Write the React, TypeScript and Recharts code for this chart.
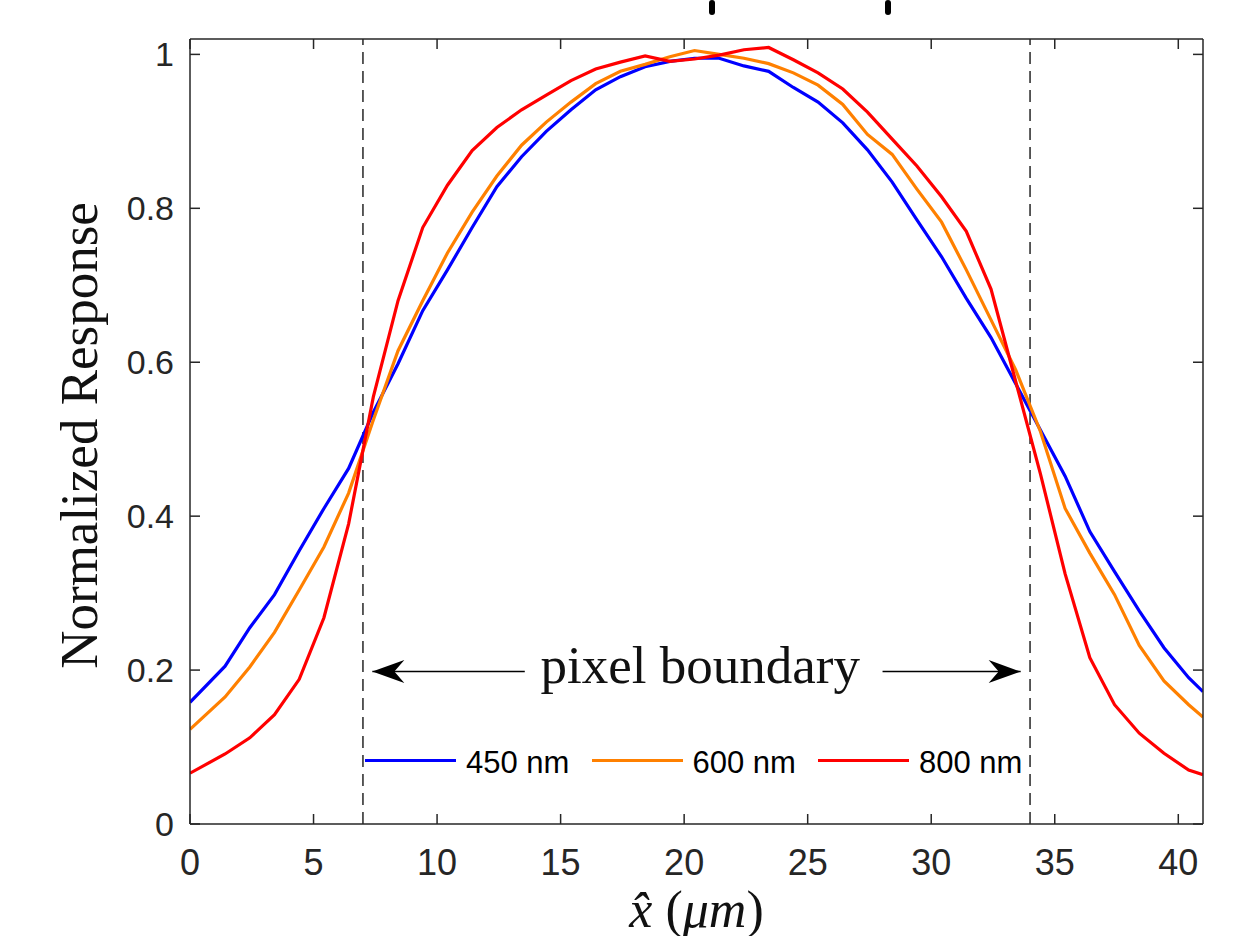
import React from 'react';
import {
  LineChart, Line, XAxis, YAxis, ReferenceLine, ReferenceDot, Legend,
} from 'recharts';

// x positions of samples (µm)
const xPositions = [
  0, 1.42, 2.42, 3.42, 4.42, 5.42, 6.42, 7.42, 8.42, 9.42, 10.42,
  11.42, 12.42, 13.42, 14.42, 15.42, 16.42, 17.42, 18.42, 19.42, 20.42,
  21.42, 22.42, 23.42, 24.42, 25.42, 26.42, 27.42, 28.42, 29.42, 30.42,
  31.42, 32.42, 33.42, 34.42, 35.42, 36.42, 37.42, 38.42, 39.42, 40.42, 41,
];

const response450 = [
  0.158, 0.205, 0.255, 0.298, 0.355, 0.41, 0.462, 0.535, 0.598, 0.667, 0.72,
  0.775, 0.828, 0.867, 0.9, 0.928, 0.954, 0.971, 0.984, 0.991, 0.995,
  0.995, 0.985, 0.978, 0.957, 0.938, 0.911, 0.876, 0.834, 0.785, 0.737,
  0.683, 0.632, 0.572, 0.512, 0.452, 0.38, 0.328, 0.277, 0.229, 0.19, 0.172,
];

const response600 = [
  0.123, 0.165, 0.204, 0.249, 0.304, 0.36, 0.43, 0.525, 0.615, 0.68, 0.742,
  0.795, 0.842, 0.882, 0.912, 0.938, 0.962, 0.978, 0.987, 0.997, 1.005,
  1.0, 0.995, 0.988, 0.976, 0.96, 0.935, 0.896, 0.87, 0.825, 0.782,
  0.72, 0.655, 0.59, 0.51, 0.41, 0.352, 0.298, 0.232, 0.186, 0.155, 0.139,
];

const response800 = [
  0.066, 0.091, 0.112, 0.142, 0.188, 0.268, 0.39, 0.555, 0.68, 0.775, 0.83,
  0.875, 0.905, 0.928, 0.947, 0.966, 0.981, 0.99, 0.998, 0.991, 0.994,
  0.999, 1.006, 1.009, 0.993, 0.976, 0.955, 0.925, 0.89, 0.855, 0.815,
  0.77, 0.695, 0.575, 0.455, 0.325, 0.216, 0.155, 0.118, 0.092, 0.07, 0.064,
];

const seriesNames = ['450 nm', '600 nm', '800 nm'];
const seriesKeys = ['r450', 'r600', 'r800'];
const seriesColors = ['#0000FF', '#FF8000', '#FF0000'];

const xTicks = [0, 5, 10, 15, 20, 25, 30, 35, 40];
const yTicks = [0, 0.2, 0.4, 0.6, 0.8, 1];
const xDomain = [0, 41];
const yDomain = [0, 1.02];

const boundaryLeft = 7;
const boundaryRight = 34;
const arrowY = 0.198;
const leftArrow = [7.38, 13.55];
const rightArrow = [28.03, 33.62];
const annotationX = 20.65;
const annotationText = 'pixel boundary';

const data = xPositions.map((x, i) => ({
  x,
  r450: response450[i],
  r600: response600[i],
  r800: response800[i],
}));

const AXIS = '#262626';
const SERIF = '"Liberation Serif", "Times New Roman", serif';
const SANS = '"Liberation Sans", Arial, Helvetica, sans-serif';

const noLabel = () => <g />;

const arrowShape = (dir: 'left' | 'right') => (p: any) => {
  const { x1, y1, x2, y2 } = p;
  const tipX = dir === 'left' ? Math.min(x1, x2) : Math.max(x1, x2);
  const s = dir === 'left' ? 1 : -1;
  const y = y1;
  const L = 32;
  const W = 11.5;
  const N = 10;
  const pts = `${tipX},${y} ${tipX + s * L},${y - W} ${tipX + s * (L - N)},${y} ${tipX + s * L},${y + W}`;
  return (
    <g>
      <line x1={x1} y1={y1} x2={x2} y2={y2} stroke="#000" strokeWidth={1.5} />
      <polygon points={pts} fill="#000" />
    </g>
  );
};

const annotationLabel = (props: any) => {
  const vb = props.viewBox || { x: 0, y: 0 };
  return (
    <text
      x={vb.x}
      y={vb.y + 11}
      textAnchor="middle"
      fontFamily={SERIF}
      fontSize={53}
      fill="#111"
    >
      {annotationText}
    </text>
  );
};

const xLabel = (props: any) => {
  const vb = props.viewBox || { x: 190, y: 824, width: 1013, height: 100 };
  return (
    <text
      x={vb.x + vb.width / 2}
      y={vb.y + 103}
      textAnchor="middle"
      fontFamily={SERIF}
      fontSize={52}
      fill="#111"
    >
      <tspan fontStyle="italic">x̂</tspan>
      <tspan> (</tspan>
      <tspan fontStyle="italic">μm</tspan>
      <tspan>)</tspan>
    </text>
  );
};

const yLabel = (props: any) => {
  const vb = props.viewBox || { x: 10, y: 39, width: 180, height: 785 };
  const cx = vb.x + 87;
  const cy = vb.y + vb.height / 2 + 4;
  return (
    <text
      x={cx}
      y={cy}
      transform={`rotate(-90 ${cx} ${cy})`}
      textAnchor="middle"
      fontFamily={SERIF}
      fontSize={53}
      fill="#111"
    >
      Normalized Response
    </text>
  );
};

const renderLegend = () => (
  <div
    style={{
      display: 'flex',
      alignItems: 'center',
      fontFamily: SANS,
      fontSize: 31,
      lineHeight: '36px',
      color: '#000',
    }}
  >
    {seriesNames.map((name, i) => (
      <div key={name} style={{ display: 'flex', alignItems: 'center', width: 226.5 }}>
        <div style={{ width: 91, height: 3, background: seriesColors[i], marginBottom: 6 }} />
        <span style={{ marginLeft: 10, whiteSpace: 'nowrap' }}>{name}</span>
      </div>
    ))}
  </div>
);

export default function App() {
  return (
    <div style={{ position: 'absolute', left: 0, top: 0, width: 1242, height: 936, background: '#fff' }}>
      <div style={{ position: 'absolute', left: 709, top: 0, width: 6, height: 15, background: '#000', borderRadius: 3 }} />
      <div style={{ position: 'absolute', left: 885, top: 0, width: 6, height: 15, background: '#000', borderRadius: 3 }} />
      <LineChart
        width={1242}
        height={936}
        data={data}
        margin={{ top: 39, right: 39, bottom: 12, left: 10 }}
      >
        <XAxis
          dataKey="x"
          type="number"
          domain={xDomain}
          ticks={xTicks}
          allowDataOverflow
          tickLine={false}
          tickSize={0}
          tickMargin={25}
          height={100}
          axisLine={{ stroke: AXIS, strokeWidth: 1.5 }}
          tick={{ fill: AXIS, fontSize: 36, fontFamily: SANS }}
          label={{ content: xLabel }}
        />
        <XAxis
          xAxisId="bottomTicks"
          dataKey="x"
          type="number"
          domain={xDomain}
          ticks={xTicks}
          allowDataOverflow
          orientation="bottom"
          mirror
          height={1}
          tick={noLabel}
          tickSize={10}
          axisLine={false}
          tickLine={{ stroke: AXIS, strokeWidth: 1.5 }}
        />
        <XAxis
          xAxisId="top"
          dataKey="x"
          type="number"
          domain={xDomain}
          ticks={xTicks}
          allowDataOverflow
          orientation="top"
          mirror
          height={1}
          tick={noLabel}
          tickSize={10}
          axisLine={{ stroke: AXIS, strokeWidth: 1.5 }}
          tickLine={{ stroke: AXIS, strokeWidth: 1.5 }}
        />
        <YAxis
          type="number"
          domain={yDomain}
          ticks={yTicks}
          allowDataOverflow
          width={180}
          tickLine={false}
          tickSize={0}
          tickMargin={16}
          axisLine={{ stroke: AXIS, strokeWidth: 1.5 }}
          tick={{ fill: AXIS, fontSize: 34, fontFamily: SANS }}
          label={{ content: yLabel }}
        />
        <YAxis
          yAxisId="leftTicks"
          type="number"
          domain={yDomain}
          ticks={yTicks}
          allowDataOverflow
          orientation="left"
          mirror
          width={1}
          tick={noLabel}
          tickSize={10}
          axisLine={false}
          tickLine={{ stroke: AXIS, strokeWidth: 1.5 }}
        />
        <YAxis
          yAxisId="right"
          type="number"
          domain={yDomain}
          ticks={yTicks}
          allowDataOverflow
          orientation="right"
          mirror
          width={1}
          tick={noLabel}
          tickSize={10}
          axisLine={{ stroke: AXIS, strokeWidth: 1.5 }}
          tickLine={{ stroke: AXIS, strokeWidth: 1.5 }}
        />
        <ReferenceLine x={boundaryLeft} stroke={AXIS} strokeWidth={1.5} strokeDasharray="12 7" />
        <ReferenceLine x={boundaryRight} stroke={AXIS} strokeWidth={1.5} strokeDasharray="12 7" />
        {seriesKeys.map((k, i) => (
          <Line
            key={k}
            type="linear"
            dataKey={k}
            name={seriesNames[i]}
            stroke={seriesColors[i]}
            strokeWidth={3.2}
            dot={false}
            activeDot={false}
            isAnimationActive={false}
          />
        ))}
        <ReferenceLine
          segment={[{ x: leftArrow[0], y: arrowY }, { x: leftArrow[1], y: arrowY }]}
          shape={arrowShape('left')}
        />
        <ReferenceLine
          segment={[{ x: rightArrow[0], y: arrowY }, { x: rightArrow[1], y: arrowY }]}
          shape={arrowShape('right')}
        />
        <ReferenceDot
          x={annotationX}
          y={arrowY}
          r={0}
          fill="none"
          stroke="none"
          label={{ content: annotationLabel }}
        />
        <Legend
          layout="horizontal"
          verticalAlign="middle"
          align="center"
          content={renderLegend}
          wrapperStyle={{ left: 365, top: 745, width: 700, height: 36 }}
        />
      </LineChart>
    </div>
  );
}
